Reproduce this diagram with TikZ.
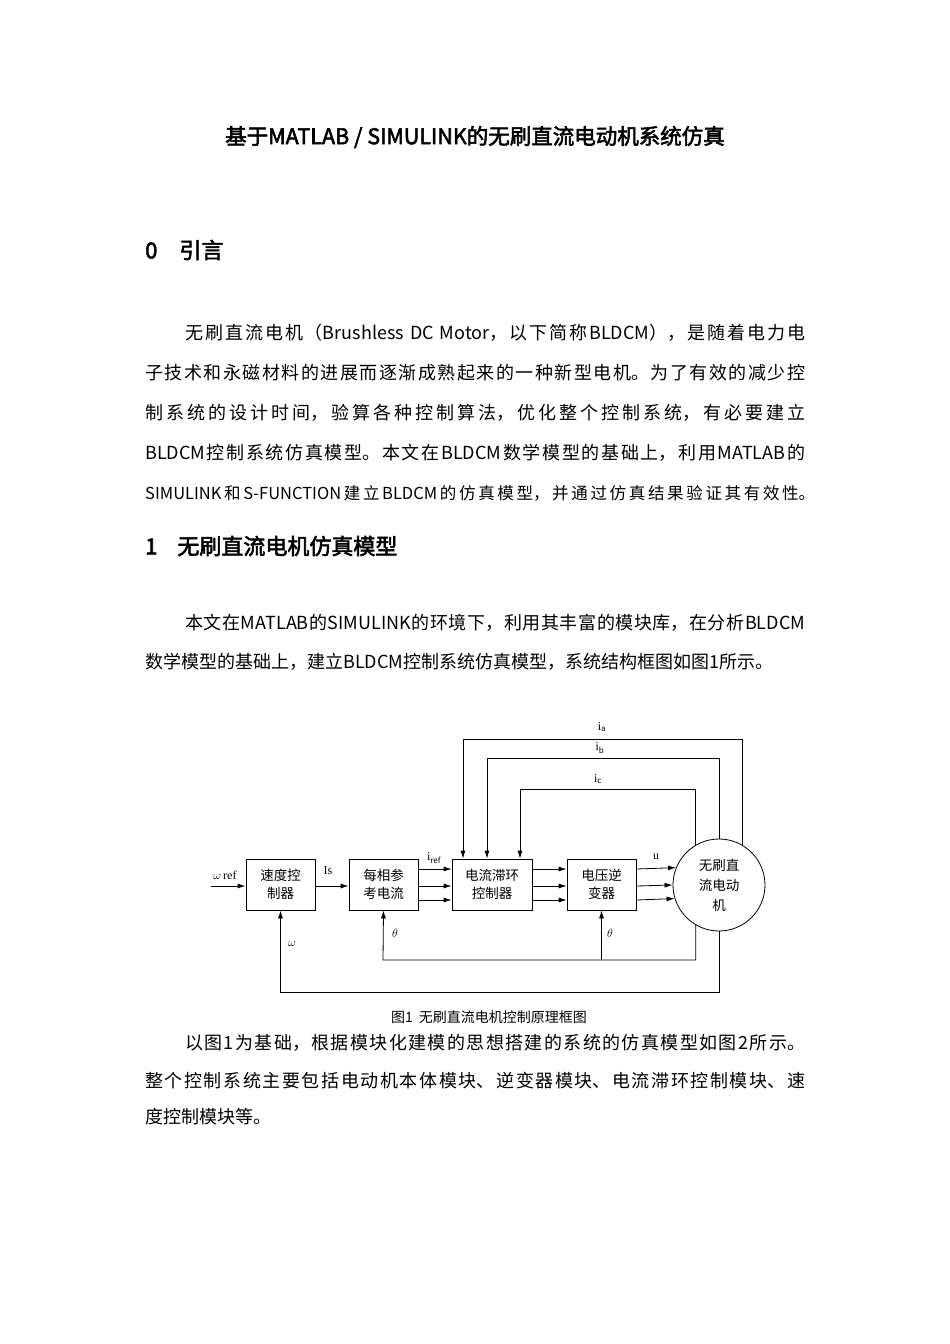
\documentclass[tikz,border=0pt]{standalone}
\usepackage{fontspec}
\setmainfont{Noto Sans CJK SC}[AutoFakeBold=2.5]
\newfontfamily\serifl{Liberation Serif}
\XeTeXlinebreaklocale "zh"
\XeTeXlinebreakskip=0pt plus 2pt
\usetikzlibrary{arrows.meta,calc}
\begin{document}
\begin{tikzpicture}[x=1pt,y=-1pt,
  body/.style={anchor=west,inner sep=0pt,font=\fontsize{18}{20}\selectfont},
  jline/.style={body,text width=660pt,align=justify},
  blk/.style={draw,thick,minimum height=51pt,inner sep=0pt,align=center,font=\fontsize{13.5}{18}\selectfont},
  arr/.style={-{Latex[length=8pt,width=5pt]},thick},
  lab/.style={inner sep=0pt,font=\serifl\fontsize{12}{13}\selectfont}]
\useasboundingbox (0,0) rectangle (950,1344);
\node[font=\bfseries\fontsize{21.5}{24}\selectfont,inner sep=0pt] (title) at (475,137) {基于MATLAB / SIMULINK的无刷直流电动机系统仿真};
\node[font=\bfseries\fontsize{22}{24}\selectfont,anchor=west,inner sep=0pt] (h0) at (145,250) {0\hspace{22pt}引言};
\node[jline] (p1) at (145,333) {\hspace*{40pt}无刷直流电机（Brushless DC Motor，以下简称BLDCM），是随着电力电\parfillskip=0pt\par};
\node[jline] (p2) at (145,373) {子技术和永磁材料的进展而逐渐成熟起来的一种新型电机。为了有效的减少控\parfillskip=0pt\par};
\node[jline] (p3) at (145,413) {制系统的设计时间，验算各种控制算法，优化整个控制系统，有必要建立\parfillskip=0pt\par};
\node[jline] (p4) at (145,453) {BLDCM控制系统仿真模型。本文在BLDCM数学模型的基础上，利用MATLAB的\parfillskip=0pt\par};
\node[jline,text width=670pt,font=\fontsize{16.5}{20}\selectfont] (p5) at (145,493) {SIMULINK和S-FUNCTION建立BLDCM的仿真模型，并通过仿真结果验证其有效性。\parfillskip=0pt\par};
\node[font=\bfseries\fontsize{22}{24}\selectfont,anchor=west,inner sep=0pt] (h1) at (145,546) {1\hspace{20pt}无刷直流电机仿真模型};
\node[jline] (q1) at (145,623) {\hspace*{40pt}本文在MATLAB的SIMULINK的环境下，利用其丰富的模块库，在分析BLDCM\parfillskip=0pt\par};
\node[body] (q2) at (145,662) {数学模型的基础上，建立BLDCM控制系统仿真模型，系统结构框图如图1所示。};
\node[inner sep=0pt,font=\fontsize{14}{16}\selectfont] (cap) at (489,1017) {图1\hspace{6pt}无刷直流电机控制原理框图};
\node[jline] (r1) at (145,1043) {\hspace*{40pt}以图1为基础，根据模块化建模的思想搭建的系统的仿真模型如图2所示。\parfillskip=0pt\par};
\node[jline] (r2) at (145,1081) {整个控制系统主要包括电动机本体模块、逆变器模块、电流滞环控制模块、速\parfillskip=0pt\par};
\node[body] (r3) at (145,1117) {度控制模块等。};
% diagram
\node[blk,minimum width=69pt] (spd) at (280.5,884.5) {速度控\\制器};
\node[blk,minimum width=69pt] (ph) at (383.5,884.5) {每相参\\考电流};
\node[blk,minimum width=80pt] (hy) at (492,884.5) {电流滞环\\控制器};
\node[blk,minimum width=69pt] (inv) at (601.5,884.5) {电压逆\\变器};
\node[draw,thick,circle,minimum size=92pt,inner sep=0pt,align=center,font=\fontsize{13.5}{20}\selectfont] (mot) at (719,885) {无刷直\\流电动\\机};
\coordinate (win) at (211,886);
\draw[arr] (win) -- (win -| spd.west);
\draw[arr] (spd.east |- 0,886) -- (ph.west |- 0,886);
\foreach \yy in {869,886,900}{
  \draw[arr] (ph.east |- 0,\yy) -- (hy.west |- 0,\yy);
  \draw[arr] (hy.east |- 0,\yy) -- (inv.west |- 0,\yy);}
\draw[arr] (inv.east |- 0,869) -- (mot.158.3);
\draw[arr] (inv.east |- 0,886) -- (mot.west);
\draw[arr] (inv.east |- 0,900) -- (mot.197.7);
\draw[arr] (mot.60) |- (463,739) -- (463,0 |- hy.north);
\draw[arr] (mot.90) |- (487,758) -- (487,0 |- hy.north);
\draw[arr] (mot.120) |- (520,789) -- (520,0 |- hy.north);
\draw[arr] (mot.240) |- (383,960) -- (ph.south);
\draw[arr] (601.5,960) -- (inv.south);
\draw[arr] (mot.270) |- (280.5,992) -- (spd.south);
\node[lab] (la) at (602,727) {i$_{\mathrm a}$};
\node[lab] (lb) at (600,748) {i$_{\mathrm b}$};
\node[lab] (lc) at (598,779) {i$_{\mathrm c}$};
\node[lab] (lir) at (434,858) {i$_{\mathrm{ref}}$};
\node[lab] (lis) at (328,871) {Is};
\node[lab] (lu) at (656,857) {u};
\node[lab] (lt1) at (395,933) {$\theta$};
\node[lab] (lt2) at (610,933) {$\theta$};
\node[lab] (lw) at (292,944) {$\omega$};
\node[lab] (lwr) at (225,875) {$\omega$\,ref};
\end{tikzpicture}
\end{document}
